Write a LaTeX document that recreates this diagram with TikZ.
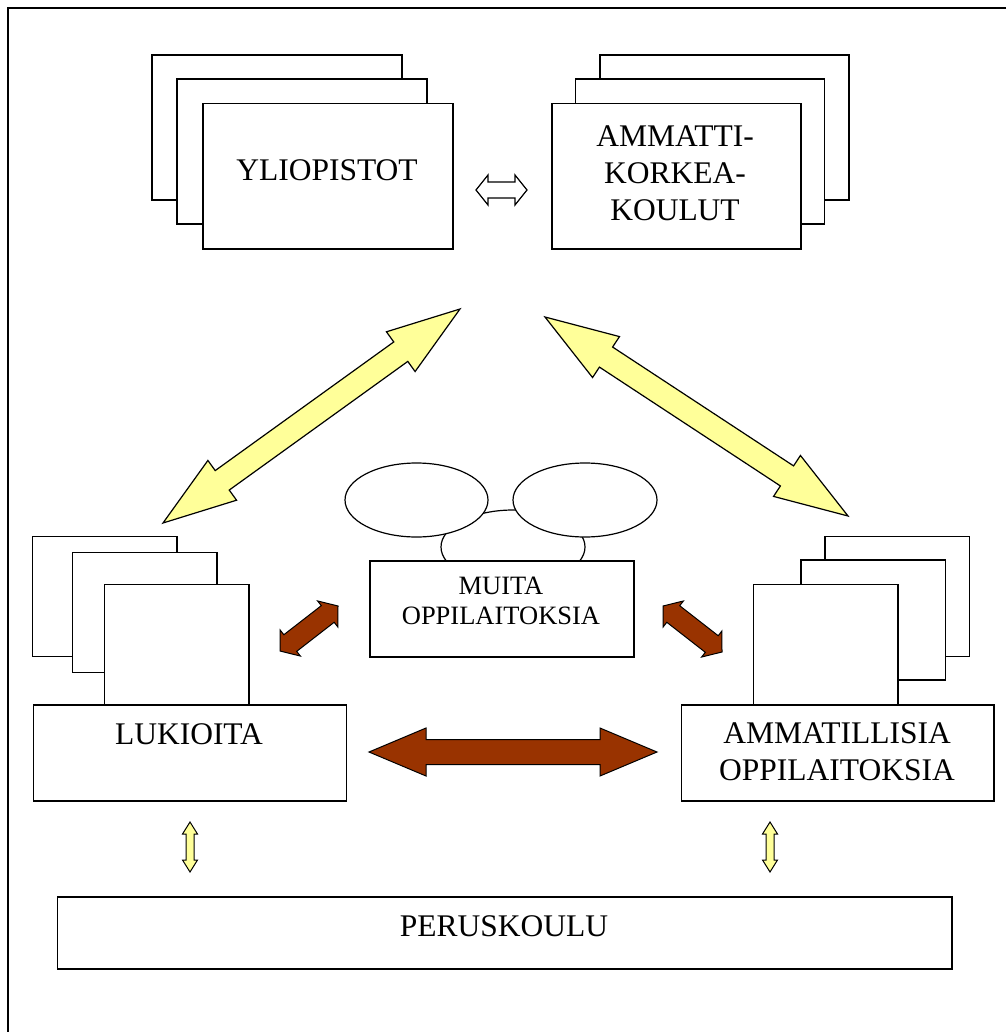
\documentclass[tikz,border=0pt]{standalone}
\usepackage{fontspec}
\setmainfont{Liberation Serif}
\usetikzlibrary{calc}

\definecolor{arrowyellow}{HTML}{FFFF99}
\definecolor{arrowbrown}{HTML}{993300}

\def\boxfont{\fontsize{31.5}{37}\selectfont}
\def\muitafont{\fontsize{26.5}{30}\selectfont}

% block double arrow: [style]{from}{to}{head length}{head half width}{shaft half width}
\newcommand\fatarrow[6][]{%
  \draw[#1] (#2) -- ($(#2)!#4!(#3)!#5!90:(#3)$) -- ($(#2)!#4!(#3)!#6!90:(#3)$)
    -- ($(#3)!#4!(#2)!#6!-90:(#2)$) -- ($(#3)!#4!(#2)!#5!-90:(#2)$) -- (#3)
    -- ($(#3)!#4!(#2)!#5!90:(#2)$) -- ($(#3)!#4!(#2)!#6!90:(#2)$)
    -- ($(#2)!#4!(#3)!#6!-90:(#3)$) -- ($(#2)!#4!(#3)!#5!-90:(#3)$) -- cycle;}

\begin{document}
\begin{tikzpicture}[x=1pt, y=-1pt,
    sheet/.style = {draw, fill=white, line width=1.5pt},
    box/.style = {draw, fill=white, line width=1.5pt, inner sep=0pt, anchor=north west},
    txt/.style = {font=\boxfont, align=center, inner sep=0pt},
    yarrow/.style = {draw, fill=arrowyellow, line width=1.2pt, line join=miter},
    barrow/.style = {draw, fill=arrowbrown, line width=1pt, line join=miter},
    warrow/.style = {draw, fill=white, line width=1.2pt, line join=miter}]
      \useasboundingbox (0,0) rectangle (1006,1032);
      \draw[line width=2pt] (1006,8) -- (8,8) -- (8,1032);          % outer frame

      % universities and their sheets
      \foreach \dx/\dy in {-50/-48, -25/-24} {
        \draw[sheet] (202+\dx,103+\dy) rectangle ++(250,145);
      }
      \node[box, minimum width=250pt, minimum height=145pt] (yliopistot) at (202,103) {};
      \node[txt] (yliopistot-t) at (327,170) {YLIOPISTOT};

      % polytechnics and their sheets
      \foreach \dx/\dy in {49/-48, 24.5/-24} {
        \draw[sheet] (551+\dx,103+\dy) rectangle ++(249,145);
      }
      \node[box, minimum width=249pt, minimum height=145pt] (amk) at (551,103) {};
      \node[txt] (amk-t) at (675,173.4) {AMMATTI-\\KORKEA-\\KOULUT};

      % upper secondary schools
      \foreach \x/\y in {32.7/536.7, 72.3/552.3, 104.3/584.3} {
        \draw[sheet] (\x,\y) rectangle ++(144.5,120);
      }
      \node[box, minimum width=313pt, minimum height=96pt] (lukioita) at (32.7,704) {};
      \node[txt] (lukioita-t) at (189,734) {LUKIOITA};

      % vocational schools
      \foreach \x/\y in {825/536.7, 801/560, 753.3/584.3} {
        \draw[sheet] (\x,\y) rectangle ++(144.5,120);
      }
      \node[box, minimum width=312.6pt, minimum height=96pt] (ammatilliset) at (680.7,704) {};
      \node[txt] (ammatilliset-t) at (837,752) {AMMATILLISIA\\OPPILAITOKSIA};

      % other institutions with the cloud of ellipses
      \draw[sheet, line width=1.2pt] (513,547) ellipse [x radius=72pt, y radius=37pt];
      \draw[sheet, line width=1.2pt] (416.5,500) ellipse [x radius=71.5pt, y radius=37pt];
      \draw[sheet, line width=1.2pt] (585,500) ellipse [x radius=72pt, y radius=37pt];
      \node[box, minimum width=264pt, minimum height=96pt] (muita) at (369,560) {};
      \node[txt, font=\muitafont] (muita-t) at (501,600.8) {MUITA\\OPPILAITOKSIA};

      % basic education
      \node[box, minimum width=894.5pt, minimum height=72pt] (peruskoulu) at (56.5,896) {};
      \node[txt] (peruskoulu-t) at (504,926.7) {PERUSKOULU};

      % arrow ends
      \coordinate (yo-end) at (460,309);
      \coordinate (lu-end) at (163,523);
      \coordinate (amk-end) at (545,317);
      \coordinate (am-end) at (848,516);
      \coordinate (yo-side) at (476,190);
      \coordinate (amk-side) at (527,190);
      \coordinate (lu-side) at (280,651);
      \coordinate (mu-left) at (338,606);
      \coordinate (mu-right) at (663,606);
      \coordinate (am-side) at (722,652);
      \coordinate (lu-right) at (369,752);
      \coordinate (am-left) at (657,752);
      \coordinate (lu-down) at (190,822);
      \coordinate (pk-left) at (190,872);
      \coordinate (am-down) at (770,822);
      \coordinate (pk-right) at (770,872);

      \fatarrow[warrow]{yo-side}{amk-side}{12pt}{15pt}{8pt}
      \foreach \a/\b in {lu-end/yo-end, am-end/amk-end} {
        \fatarrow[yarrow]{\a}{\b}{73pt}{24.5pt}{12pt}
      }
      \foreach \a/\b in {lu-side/mu-left, mu-right/am-side} {
        \fatarrow[barrow]{\a}{\b}{13pt}{16.5pt}{10.5pt}
      }
      \fatarrow[barrow]{lu-right}{am-left}{57pt}{24pt}{12.5pt}
      \foreach \a/\b in {lu-down/pk-left, am-down/pk-right} {
        \fatarrow[yarrow, line width=1pt]{\a}{\b}{12pt}{7.5pt}{4pt}
      }
    \end{tikzpicture}
\end{document}
